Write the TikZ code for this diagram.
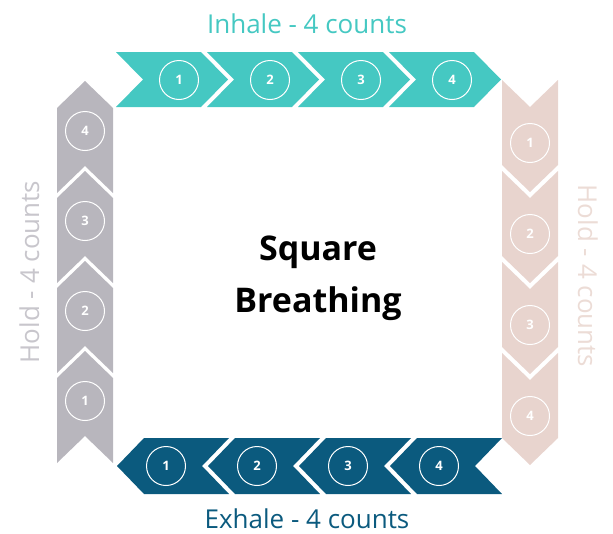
\documentclass[tikz,border=0pt]{standalone}
\usepackage{fontspec}
\setmainfont{Open Sans}
\definecolor{teal1}{RGB}{69,200,194}
\definecolor{navy1}{RGB}{11,90,126}
\definecolor{gray1}{RGB}{184,182,189}
\definecolor{pink1}{RGB}{232,212,206}
\definecolor{grayT}{RGB}{200,198,204}
\definecolor{pinkT}{RGB}{236,220,214}
\begin{document}
\begin{tikzpicture}[x=1pt,y=-1pt,
  num/.style={circle, draw=white, line width=1pt, minimum size=39pt, inner sep=0pt,
    text=white, font=\bfseries\fontsize{13}{13}\selectfont},
  lbl/.style={font=\fontsize{26}{26}\selectfont, inner sep=0pt, anchor=base},
  ttl/.style={font=\bfseries\fontsize{34}{34}\selectfont, inner sep=0pt, anchor=base, text=black}]
\useasboundingbox (0,0) rectangle (613,533);
% top row: inhale
\foreach \i/\n in {0/1,1/2,2/3,3/4}{
  \pgfmathsetmacro\xo{116+91*\i}
  \fill[teal1] (\xo,52) -- ++(85,0) -- ++(27,27.5) -- ++(-27,27.5) -- ++(-85,0) -- ++(27,-27.5) -- cycle;
  \node[num] (t\n) at (\xo+63,80) {\n};
}
% left column: hold
\foreach \j/\n in {0/1,1/2,2/3,3/4}{
  \pgfmathsetmacro\yb{463-90*\j}
  \fill[gray1] (57,\yb) -- (57,\yb-85) -- (85,\yb-112) -- (113,\yb-85) -- (113,\yb) -- (85,\yb-27) -- cycle;
  \node[num] (l\n) at (85,\yb-62) {\n};
}
% right column: hold
\foreach \k/\n in {0/1,1/2,2/3,3/4}{
  \pgfmathsetmacro\yo{80+91*\k}
  \fill[pink1] (502,\yo) -- (530,\yo+27) -- (558,\yo) -- (558,\yo+85) -- (530,\yo+112) -- (502,\yo+85) -- cycle;
  \node[num] (r\n) at (530,\yo+63) {\n};
}
% bottom row: exhale
\foreach \m/\n in {0/1,1/2,2/3,3/4}{
  \pgfmathsetmacro\xb{229+91*\m}
  \fill[navy1] (\xb,438) -- (\xb-27,466) -- (\xb,494) -- (\xb-85,494) -- (\xb-112,466) -- (\xb-85,438) -- cycle;
  \node[num] (b\n) at (\xb-63,466) {\n};
}
\node[lbl, text=teal1] (inhale) at (307,33) {Inhale - 4 counts};
\node[lbl, text=navy1] (exhale) at (307,528) {Exhale - 4 counts};
\node[lbl, text=grayT, rotate=90] (holdL) at (39,272) {Hold - 4 counts};
\node[lbl, text=pinkT, rotate=-90] (holdR) at (578,276) {Hold - 4 counts};
\node[ttl] (title1) at (318,260) {Square};
\node[ttl] (title2) at (318,312) {Breathing};
\end{tikzpicture}
\end{document}
